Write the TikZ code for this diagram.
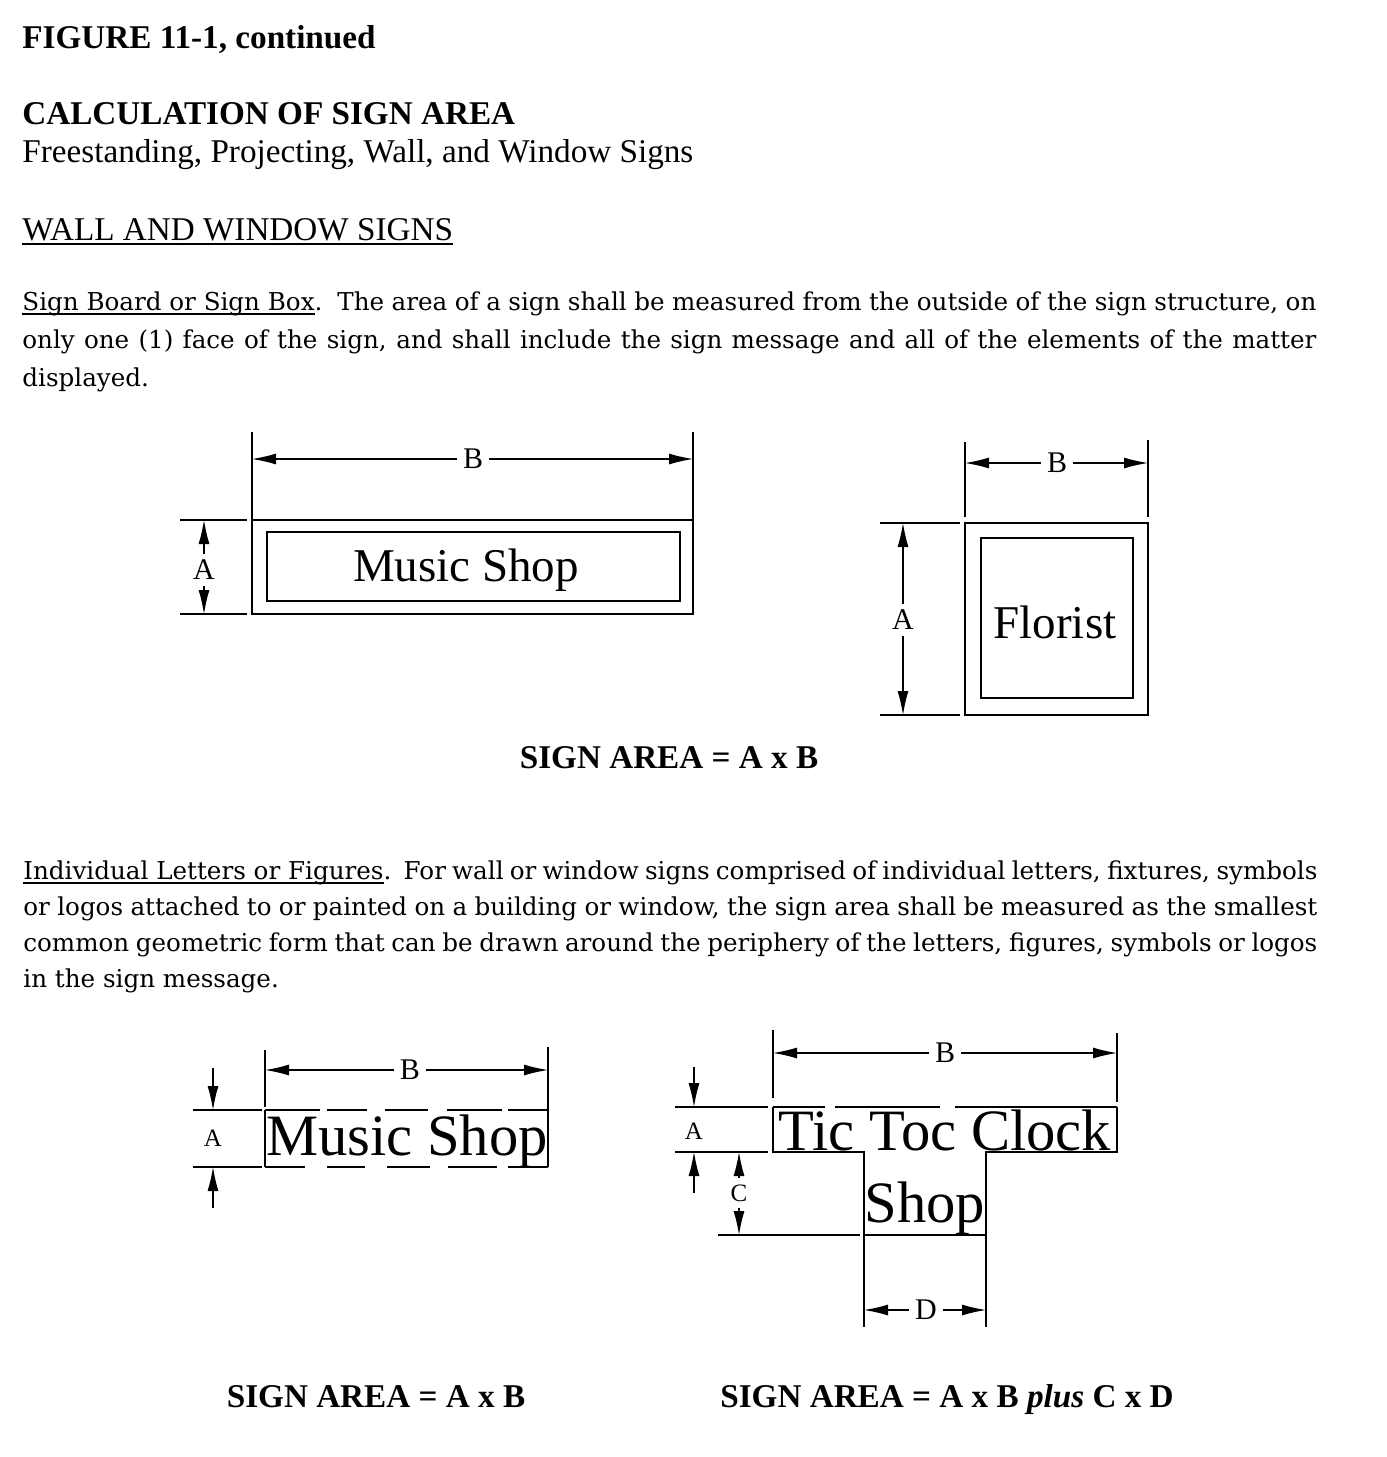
\documentclass[tikz,border=0pt]{standalone}
\usepackage{fontspec}
\setmainfont{Liberation Serif}
\newfontfamily\bodyfont{DejaVu Serif}
\usepackage{tikz}
\usetikzlibrary{arrows.meta, positioning, calc}

% underline that sits close to the baseline
\newcommand{\ulinetext}[1]{\setbox0\hbox{#1}\makebox[0pt][l]{\rule[-2.4pt]{\wd0}{0.7pt}}\box0}

\tikzset{
  txt/.style={anchor=base west, inner sep=0pt},
  headfont/.style={font=\fontsize{16.6}{20}\selectfont},
  headbold/.style={font=\bfseries\fontsize{16.6}{20}\selectfont},
  para/.style={txt, text width=647pt, align=justify,
    font=\bodyfont\fontsize{12.3}{#1}\selectfont},
  board/.style={line width=0.8pt},
  extline/.style={line width=0.6pt},
  dimline/.style={line width=0.6pt, -{Latex[length=12pt,width=5.5pt]}},
  dimlabel/.style={inner sep=3pt, font=\fontsize{15}{15}\selectfont},
  smalllabel/.style={inner sep=3pt, font=\fontsize{12.5}{12.5}\selectfont},
  signtext/.style={inner sep=0pt, font=\fontsize{23.5}{24}\selectfont},
  bigsign/.style={anchor=base, inner sep=0pt, font=\fontsize{29.3}{30}\selectfont},
  arealabel/.style={anchor=base, inner sep=0pt, font=\bfseries\fontsize{16.6}{20}\selectfont}
}

\begin{document}
\begin{tikzpicture}[x=0.5pt, y=-0.5pt]
  \useasboundingbox (0,0) rectangle (1387,1457);

  % Headings
  \node[txt, headbold] (figtitle) at (22,48) {FIGURE 11-1, continued};
  \node[txt, headbold] (calctitle) at (22,124) {CALCULATION OF SIGN AREA};
  \node[txt, headfont] (subtitle) at (22,162) {Freestanding, Projecting, Wall, and Window Signs};
  \node[txt, headfont] (walltitle) at (22,240) {\ulinetext{WALL AND WINDOW SIGNS}};

  % Sign board paragraph
  \node[para=19.2pt] (boardtext) at (22,310) {\ulinetext{Sign Board or Sign Box}.\ \ The area of a sign shall be measured from the outside of the sign structure, on\linebreak
    only one (1) face of the sign, and shall include the sign message and all of the elements of the matter\linebreak
    displayed.};

  % Sign board: Music Shop
  \coordinate (mb-nw) at (252,520);
  \coordinate (mb-ne) at (693,520);
  \coordinate (mb-sw) at (252,614);
  \draw[board] (mb-nw) rectangle (693,614);
  \draw[board] (267,532) rectangle (680,601);
  \node[signtext] (musicboard) at (466,570) {Music Shop};
  \draw[extline] (252,432) -- (mb-nw);
  \draw[extline] (693,432) -- (mb-ne);
  \coordinate (mb-bl) at (252,459);
  \coordinate (mb-br) at (693,459);
  \node[dimlabel] (mb-B) at (473,459) {B};
  \draw[dimline] (mb-B) -- (mb-bl);
  \draw[dimline] (mb-B) -- (mb-br);
  \coordinate (mb-at) at (204,520);
  \coordinate (mb-ab) at (204,614);
  \draw[extline] (180,520) -- (247,520);
  \draw[extline] (180,614) -- (247,614);
  \node[dimlabel] (mb-A) at (204,570) {A};
  \draw[dimline] (mb-A) -- (mb-at);
  \draw[dimline] (mb-A) -- (mb-ab);

  % Sign box: Florist
  \draw[board] (965,523) rectangle (1148,715);
  \draw[board] (981,538) rectangle (1133,698);
  \node[signtext] (florist) at (1055,622) {Florist};
  \draw[extline] (965,442) -- (965,517);
  \draw[extline] (1148,440) -- (1148,517);
  \coordinate (fb-bl) at (965,463);
  \coordinate (fb-br) at (1148,463);
  \node[dimlabel] (fb-B) at (1057,463) {B};
  \draw[dimline] (fb-B) -- (fb-bl);
  \draw[dimline] (fb-B) -- (fb-br);
  \draw[extline] (880,523) -- (960,523);
  \draw[extline] (880,715) -- (960,715);
  \coordinate (fb-at) at (903,523);
  \coordinate (fb-ab) at (903,715);
  \node[dimlabel] (fb-A) at (903,620) {A};
  \draw[dimline] (fb-A) -- (fb-at);
  \draw[dimline] (fb-A) -- (fb-ab);

  \node[arealabel] (area1) at (669,768) {SIGN AREA = A x B};

  % Individual letters paragraph
  \node[para=18pt] (lettertext) at (23,879) {\ulinetext{Individual Letters or Figures}.\ \ For wall or window signs comprised of individual letters, fixtures, symbols\linebreak
    or logos attached to or painted on a building or window, the sign area shall be measured as the smallest\linebreak
    common geometric form that can be drawn around the periphery of the letters, figures, symbols or logos\linebreak
    in the sign message.};

  % Individual letters: Music Shop
  \node[bigsign] (musicletters) at (407,1155) {Music Shop};
  \draw[board] (265,1110) -- (265,1167);
  \draw[board] (548,1110) -- (548,1167);
  \foreach \a/\b in {265/320, 327/367, 385/428, 447/502, 508/548}
    \draw[board] (\a,1110) -- (\b,1110);
  \foreach \a/\b in {265/305, 327/365, 387/430, 448/497, 508/548}
    \draw[board] (\a,1167) -- (\b,1167);
  \draw[extline] (265,1050) -- (265,1107);
  \draw[extline] (548,1047) -- (548,1110);
  \coordinate (ml-bl) at (265,1070);
  \coordinate (ml-br) at (548,1070);
  \node[dimlabel] (ml-B) at (410,1070) {B};
  \draw[dimline] (ml-B) -- (ml-bl);
  \draw[dimline] (ml-B) -- (ml-br);
  \draw[extline] (193,1110) -- (262,1110);
  \draw[extline] (193,1167) -- (262,1167);
  \node[smalllabel] (ml-A) at (213,1138) {A};
  \coordinate (ml-a1) at (213,1068);
  \coordinate (ml-a2) at (213,1110);
  \coordinate (ml-a3) at (213,1208);
  \coordinate (ml-a4) at (213,1167);
  \draw[dimline] (ml-a1) -- (ml-a2);
  \draw[dimline] (ml-a3) -- (ml-a4);

  % Individual letters: Tic Toc Clock Shop
  \node[bigsign] (clockline) at (945,1150) {Tic Toc Clock};
  \node[bigsign] (shopline) at (925,1222) {Shop};
  \foreach \a/\b in {773/825, 835/940, 955/1117}
    \draw[board] (\a,1107) -- (\b,1107);
  \draw[board] (773,1107) -- (773,1152) -- (864,1152) -- (864,1235) -- (986,1235)
    -- (986,1152) -- (1117,1152) -- (1117,1107);
  \draw[extline] (773,1030) -- (773,1098);
  \draw[extline] (1117,1033) -- (1117,1102);
  \coordinate (tc-bl) at (773,1053);
  \coordinate (tc-br) at (1117,1053);
  \node[dimlabel] (tc-B) at (945,1053) {B};
  \draw[dimline] (tc-B) -- (tc-bl);
  \draw[dimline] (tc-B) -- (tc-br);
  \draw[extline] (864,1235) -- (864,1327);
  \draw[extline] (986,1235) -- (986,1327);
  \coordinate (tc-dl) at (864,1310);
  \coordinate (tc-dr) at (986,1310);
  \node[dimlabel] (tc-D) at (926,1310) {D};
  \draw[dimline] (tc-D) -- (tc-dl);
  \draw[dimline] (tc-D) -- (tc-dr);
  \draw[extline] (675,1107) -- (768,1107);
  \draw[extline] (675,1152) -- (768,1152);
  \draw[extline] (718,1235) -- (860,1235);
  \node[smalllabel] (tc-A) at (694,1131) {A};
  \coordinate (tc-a1) at (694,1067);
  \coordinate (tc-a2) at (694,1107);
  \coordinate (tc-a3) at (694,1193);
  \coordinate (tc-a4) at (694,1152);
  \draw[dimline] (tc-a1) -- (tc-a2);
  \draw[dimline] (tc-a3) -- (tc-a4);
  \node[smalllabel] (tc-C) at (739,1193) {C};
  \coordinate (tc-ct) at (739,1152);
  \coordinate (tc-cb) at (739,1235);
  \draw[dimline] (tc-C) -- (tc-ct);
  \draw[dimline] (tc-C) -- (tc-cb);

  \node[arealabel] (area2) at (376,1407) {SIGN AREA = A x B};
  \node[arealabel] (area3) at (947,1407) {SIGN AREA = A x B \textit{plus} C x D};
\end{tikzpicture}
\end{document}
